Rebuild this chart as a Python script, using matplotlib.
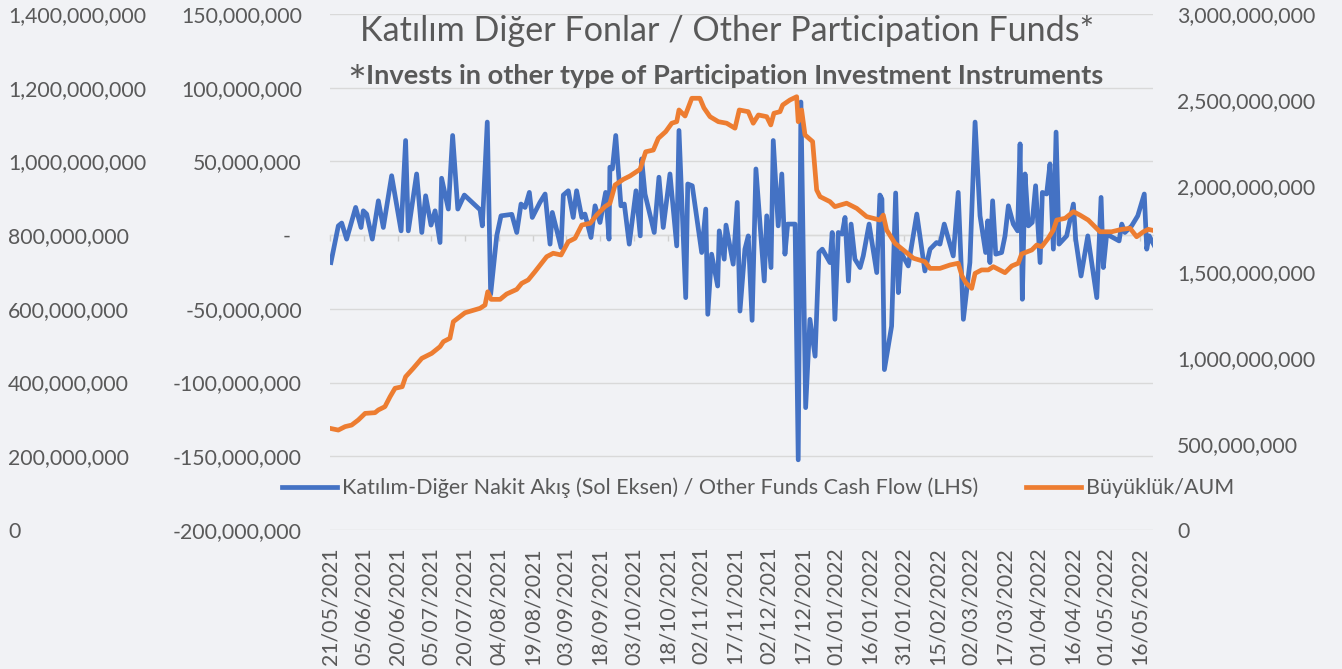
import matplotlib
matplotlib.use("Agg")
import matplotlib.pyplot as plt
import matplotlib.dates as mdates
from matplotlib.lines import Line2D
import numpy as np
import datetime as dt

# ---------------- data ----------------
START = dt.date(2021, 5, 21)

# Katılım-Diğer Nakit Akış (cash flow, LHS) — days since 21/05/2021, million TRY
cf_day = [0.4, 3.7, 5.2, 7.4, 11.4, 13.8, 14.8, 16.3, 18.8, 21.5,
          23.7, 27.4, 31.6, 33.6, 34.8, 38.5, 40.8, 42.5, 44.9, 46.7,
          48.9, 49.6, 52.6, 54.5, 56.8, 59.7, 66.7, 67.7, 69.9, 71.4,
          74.1, 76.0, 80.8, 83.0, 84.9, 86.7, 88.6, 89.9, 93.3, 95.6,
          97.8, 98.8, 102.7, 103.7, 105.9, 108.1, 109.6, 111.9, 113.3, 116.0,
          117.8, 120.0, 122.5, 124.0, 124.4, 125.5, 127.0, 129.3, 130.8, 133.0,
          136.0, 137.9, 138.5, 140.0, 144.1, 146.2, 148.1, 151.1, 154.1, 155.1,
          158.1, 159.0, 161.0, 165.2, 167.0, 167.9, 169.6, 172.3, 173.0, 175.2,
          176.0, 179.2, 181.0, 182.2, 184.4, 185.9, 187.6, 189.3, 193.0, 194.1,
          196.0, 197.0, 199.2, 200.8, 202.2, 203.4, 206.7, 208.1, 209.3, 211.4,
          213.3, 215.6, 217.3, 218.8, 222.2, 223.2, 224.4, 225.9, 227.6, 228.9,
          230.4, 231.6, 233.3, 235.6, 237.0, 239.6, 243.0, 244.4, 245.3, 246.4,
          249.6, 251.4, 252.6, 253.8, 257.0, 260.8, 264.4, 266.7, 269.6, 271.1,
          273.0, 277.0, 279.2, 281.5, 284.4, 286.7, 288.9, 291.4, 292.3, 293.3,
          294.5, 295.9, 298.5, 300.0, 301.5, 303.7, 305.6, 306.7, 307.7, 308.9,
          310.4, 312.1, 313.6, 315.6, 316.6, 318.5, 320.0, 321.5, 322.7, 324.0,
          327.4, 330.4, 331.4, 333.8, 336.8, 340.8, 342.7, 343.7, 345.2, 350.7,
          351.9, 353.3, 356.3, 359.0, 361.9, 363.0, 364.1, 366.4]
cf_mn = [-18.6, 6.3, 8.2, -2.7, 18.8, 5.2, 16.5, 14.3, -2.7, 23.3,
         5.2, 40.3, 2.9, 64.2, 2.9, 41.5, 1.8, 26.7, 6.8, 16.5,
         -5.0, 38.6, 17.7, 67.6, 17.7, 27.2, 17.2, 6.3, 76.7, -40.1,
         -0.5, 13.1, 14.1, 1.8, 21.1, 18.8, 29.0, 12.0, 22.2, 27.9,
         -6.1, 15.4, -8.4, 27.2, 30.1, 12.0, 30.1, 12.0, 14.3, -1.6,
         19.9, 8.6, 29.0, -2.7, 46.1, 44.9, 67.6, 19.9, 21.1, -6.1,
         30.1, -0.5, 51.7, 27.9, 1.8, 39.3, 5.2, 41.5, -7.3, 71.0,
         -42.4, 34.7, 33.5, -11.8, 17.7, -53.7, -12.9, -34.5, 2.9, -16.3,
         6.8, -19.7, 22.2, -51.5, -9.5, -0.5, -57.8, 44.9, -31.1, 13.1,
         -22.0, 64.2, 6.3, 41.5, -12.9, 7.5, 7.5, -152.4, 90.3, -117.0,
         -57.1, -82.1, -11.8, -9.5, -18.6, 1.8, -57.1, 1.8, 0.7, 12.0,
         -31.1, 7.5, -16.3, -22.0, -14.1, 7.5, -25.4, 27.2, 24.5, -91.2,
         -61.7, 28.6, -39.0, -11.8, -20.9, 14.3, -24.3, -9.5, -5.0, -6.1,
         7.5, -14.1, 29.0, -57.1, -18.6, 76.7, 13.1, -11.8, 9.7, -18.6,
         23.3, -12.9, -11.8, -0.5, 19.9, 7.5, 2.9, 61.9, -43.5, 41.5,
         6.3, 8.6, 33.5, -18.6, 29.0, 27.9, 48.3, -9.5, 69.9, -6.1,
         -0.5, 21.1, -2.7, -27.7, -0.5, -42.4, 25.6, -22.0, 0.7, -3.9,
         7.5, 1.8, 6.3, 13.1, 27.9, -9.5, -0.5, -7.3]

# Büyüklük / AUM (RHS) — days since 21/05/2021, million TRY
aum_day = [0, 3.7, 6.7, 9.6, 12.6, 15.6, 20.0, 21.5, 24.4, 26.7,
           28.9, 32.1, 33.6, 37.0, 40.8, 45.2, 48.9, 50.4, 53.3, 54.8,
           60.0, 66.7, 68.9, 70.1, 71.6, 75.6, 78.5, 83.0, 85.2, 88.1,
           91.1, 96.3, 99.2, 102.7, 105.9, 108.9, 111.9, 115.6, 118.5, 122.2,
           124.4, 126.7, 130.4, 133.3, 137.8, 140.3, 143.7, 145.9, 149.2, 151.9,
           154.1, 155.1, 157.8, 160.8, 164.4, 166.2, 168.9, 172.6, 176.3, 180.0,
           181.9, 185.9, 188.1, 190.4, 194.1, 195.9, 197.3, 200.0, 201.2, 204.4,
           207.4, 208.1, 209.6, 211.1, 214.5, 216.3, 217.8, 222.2, 224.4, 229.6,
           234.1, 238.5, 244.4, 245.9, 247.4, 251.1, 254.8, 259.3, 264.4, 266.7,
           271.1, 275.6, 279.2, 280.9, 282.7, 285.2, 286.7, 289.6, 292.6, 294.8,
           300.0, 303.0, 305.9, 307.4, 311.9, 314.1, 316.3, 319.2, 321.5, 323.0,
           326.7, 330.4, 333.3, 337.0, 342.2, 347.4, 351.9, 355.6, 358.5, 361.5,
           363.7, 366.4]
aum_mn = [591, 581, 601, 610, 640, 678, 682, 698, 717, 775,
          824, 833, 891, 940, 998, 1027, 1066, 1095, 1115, 1211,
          1263, 1289, 1308, 1385, 1341, 1341, 1372, 1399, 1434, 1454,
          1502, 1589, 1609, 1599, 1676, 1696, 1773, 1783, 1831, 1880,
          1899, 2006, 2039, 2058, 2097, 2199, 2209, 2277, 2316, 2365,
          2374, 2442, 2407, 2510, 2510, 2454, 2403, 2374, 2365, 2336,
          2442, 2432, 2365, 2413, 2403, 2355, 2423, 2432, 2471, 2500,
          2519, 2374, 2442, 2297, 2258, 1977, 1938, 1909, 1880, 1900,
          1870, 1822, 1802, 1831, 1744, 1667, 1628, 1580, 1560, 1521,
          1521, 1541, 1551, 1477, 1436, 1405, 1492, 1512, 1512, 1531,
          1496, 1535, 1551, 1605, 1628, 1657, 1647, 1696, 1744, 1802,
          1812, 1851, 1831, 1802, 1734, 1734, 1748, 1754, 1705, 1734,
          1748, 1740]

tick_dates = [START + dt.timedelta(days=15 * k) for k in range(25)]
outer_ticks = [0, 200e6, 400e6, 600e6, 800e6, 1000e6, 1200e6, 1400e6]
cf_ticks = [-200e6, -150e6, -100e6, -50e6, 0, 50e6, 100e6, 150e6]
aum_ticks = [0, 500e6, 1000e6, 1500e6, 2000e6, 2500e6, 3000e6]

title = "Katılım Diğer Fonlar / Other Participation Funds*"
subtitle = "Invests in other type of Participation Investment Instruments"
label_cf = "Katılım-Diğer Nakit Akış (Sol Eksen) / Other Funds Cash Flow (LHS)"
label_aum = "Büyüklük/AUM"

# ---------------- style ----------------
W, H = 1342, 669
BG = "#F1F2F5"
TXT = "#595959"
GRID = "#D9D9D9"
BLUE = "#4472C4"
ORANGE = "#ED7D31"
FONT = "Lato"
TS = 15.3
plt.rcParams["font.family"] = [FONT, "DejaVu Sans"]

fig = plt.figure(figsize=(W / 100, H / 100), dpi=100, facecolor=BG)
L, R, T, B = 330, 1153, 14, 530
ax = fig.add_axes([L / W, 1 - B / H, (R - L) / W, (B - T) / H])
ax.set_facecolor("none")

x0 = mdates.date2num(START)
cf_x = x0 + np.array(cf_day)
aum_x = x0 + np.array(aum_day)

def fmt(v):
    if v == 0:
        return "-  "
    return f"{int(v):,}"

# primary (cash flow) axis
ax.plot(cf_x, np.array(cf_mn) * 1e6, color=BLUE, lw=3.4, solid_joinstyle="round", zorder=3)
ax.set_ylim(-200e6, 150e6)
ax.set_yticks(cf_ticks, labels=[fmt(v) for v in cf_ticks])
ax.tick_params(axis="y", length=0, pad=28 * 0.72, labelsize=TS, labelcolor=TXT)
ax.grid(axis="y", color=GRID, lw=1.0)
ax.set_axisbelow(True)
for s in ["top", "right", "left"]:
    ax.spines[s].set_visible(False)
ax.spines["bottom"].set_position(("data", 0))
ax.spines["bottom"].set_color(GRID)
ax.spines["bottom"].set_linewidth(1.0)
tick_nums = [mdates.date2num(d) for d in tick_dates]
ax.set_xticks(tick_nums)
ax.tick_params(axis="x", labelbottom=False, length=6 * 0.72, width=1.0,
               color="#CFCFCF", direction="out")
ax.set_xlim(x0, x0 + (R - L) / 2.25)

sec = ax.secondary_xaxis("bottom")
sec.set_xticks(tick_nums, labels=[d.strftime("%d/%m/%Y") for d in tick_dates])
sec.tick_params(length=0, pad=17 * 0.72, labelsize=TS, labelcolor=TXT, labelrotation=90)
sec.spines["bottom"].set_visible(False)

# secondary (AUM) axis
ax_r = ax.twinx()
ax_r.plot(aum_x, np.array(aum_mn) * 1e6, color=ORANGE, lw=3.4, solid_joinstyle="round", zorder=4)
ax_r.set_ylim(0, 3000e6)
ax_r.set_yticks(aum_ticks, labels=[("0" if v == 0 else f"{int(v):,}") for v in aum_ticks])
ax_r.tick_params(axis="y", length=0, pad=24 * 0.72, labelsize=TS, labelcolor=TXT)
for s in ax_r.spines.values():
    s.set_visible(False)

# outer left axis (0 .. 1.4 bn)
ax_o = ax.twinx()
ax_o.yaxis.set_ticks_position("left")
ax_o.set_ylim(0, 1400e6)
ax_o.set_yticks(outer_ticks, labels=[("0" if v == 0 else f"{int(v):,}") for v in outer_ticks])
ax_o.tick_params(axis="y", length=0, pad=(L - 8) * 0.72, labelsize=TS, labelcolor=TXT)
for lbl in ax_o.get_yticklabels():
    lbl.set_horizontalalignment("left")
for s in ax_o.spines.values():
    s.set_visible(False)

# titles
t_title = fig.text(727 / W, 1 - 31 / H, title, ha="center", va="center", color=TXT, fontsize=22)
t_sub = fig.text(366 / W, 1 - 76 / H, subtitle, ha="left", va="center", color=TXT,
                 fontsize=16, fontweight="bold")
fig.text(366 / W, 1 - 97 / H, "*", ha="right", va="baseline", color=TXT, fontsize=32)

def fit(t, target):
    fig.canvas.draw()
    bb = t.get_window_extent(fig.canvas.get_renderer())
    t.set_fontsize(t.get_fontsize() * target / bb.width)

fit(t_title, 731)
fit(t_sub, 744)

handles = [Line2D([], [], color=BLUE, lw=3.4), Line2D([], [], color=ORANGE, lw=3.4)]

def make_legend(fs):
    em = fs / 0.72
    return fig.legend(handles, [label_cf, label_aum], loc="center",
                      bbox_to_anchor=(758 / W, 1 - 488 / H), ncol=2, frameon=False,
                      fontsize=fs, labelcolor=TXT, handlelength=55 / em,
                      handletextpad=5 / em, columnspacing=47 / em,
                      borderpad=0, borderaxespad=0)

leg = make_legend(TS)
fig.canvas.draw()
w0 = leg.get_texts()[0].get_window_extent(fig.canvas.get_renderer()).width
leg.remove()
leg = make_legend(TS * 638 / w0)

fig.savefig("out.png", dpi=100, facecolor=BG)
